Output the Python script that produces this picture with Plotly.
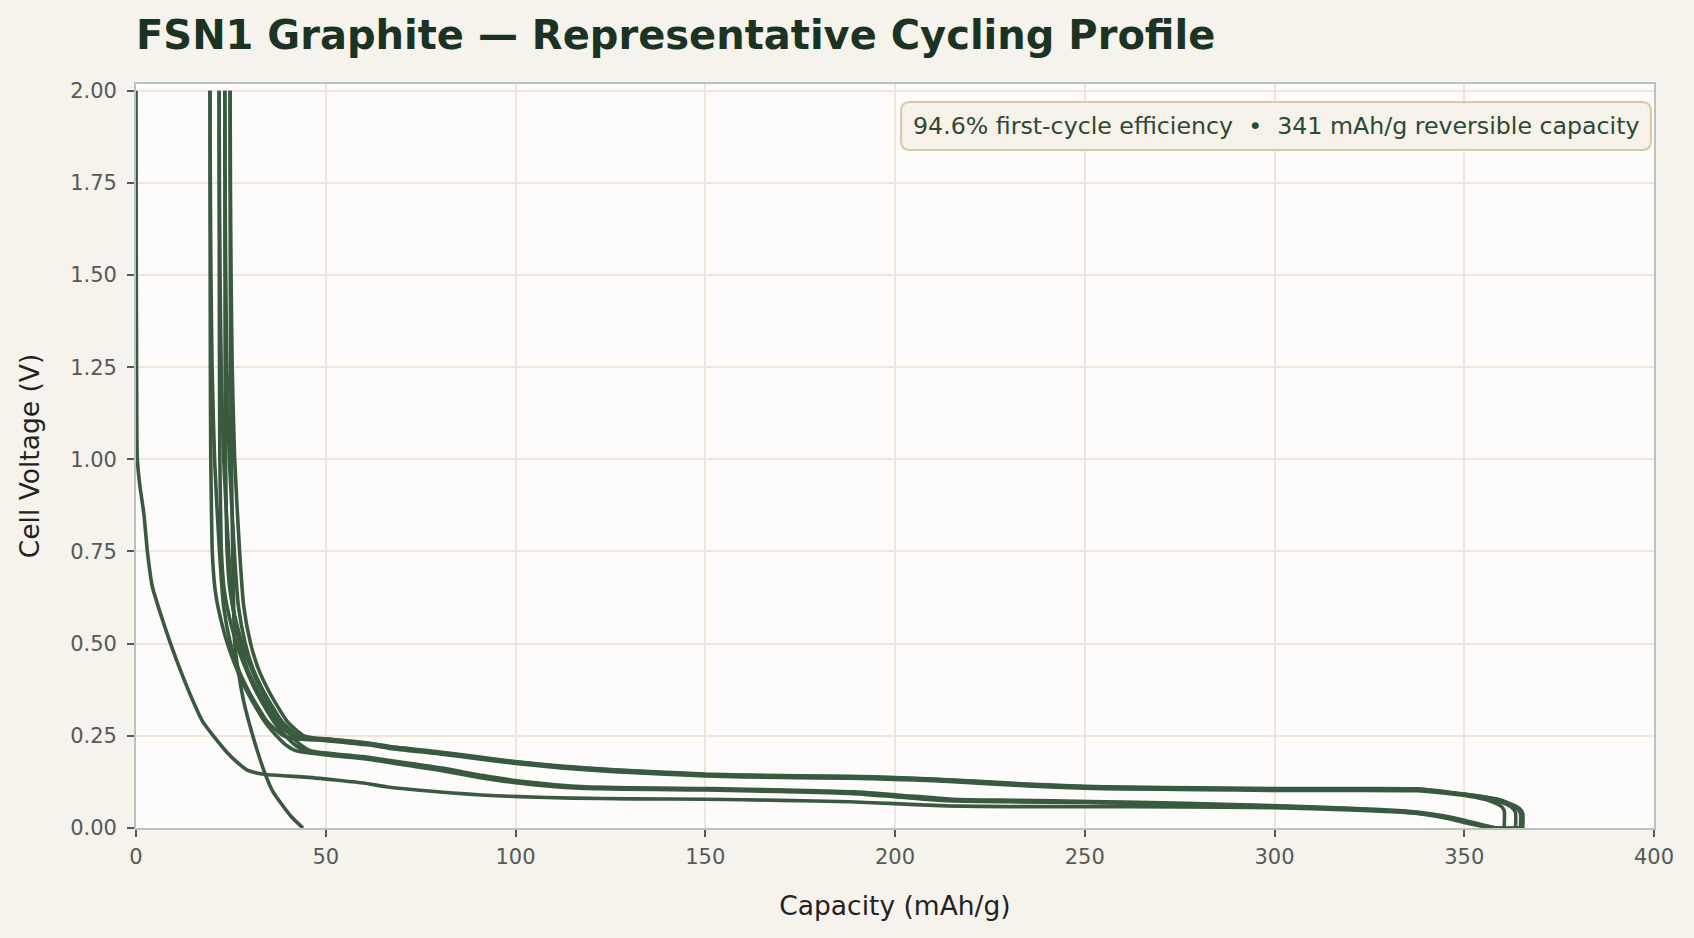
import plotly.graph_objects as go

# values (capacity in mAh/g, voltage in V)
first_cycle_eff = 94.6
reversible_cap = 341

# cycle 1 discharge
cap_d1 = [0.0, 0.05, 0.15, 0.35, 1.0, 2.1, 3.0, 4.3, 6.5, 9.1, 12.0, 14.9, 17.5, 20.6, 24.0, 27.0,
          29.3, 31.5, 34.2, 40.0, 44.8, 52.7, 60.0, 65.9, 74.0, 83.4, 92.0, 101.0, 115.0, 130.0, 150.0,
          170.0, 188.0, 200.0, 213.7, 230.0, 250.0, 275.0, 300.0, 320.0, 337.6, 345.0, 350.0, 355.0,
          358.0, 360.5]
volt_d1 = [2.0, 1.6, 1.25, 1.0, 0.93, 0.85, 0.75, 0.655, 0.58, 0.5, 0.42, 0.347, 0.29, 0.247, 0.205,
           0.175, 0.157, 0.15, 0.145, 0.141, 0.138, 0.13, 0.122, 0.112, 0.103, 0.095, 0.089, 0.085, 0.081,
           0.079, 0.078, 0.075, 0.071, 0.066, 0.06, 0.058, 0.058, 0.057, 0.055, 0.049, 0.04, 0.03, 0.017,
           0.006, 0.0, 0.0]

# cycle 1 charge
cap_c1 = [360.5, 360.5, 359.6, 357.2, 353.5, 348.5, 342.5, 337.6, 320, 300, 280, 260, 250, 235, 223,
          210, 200, 188, 170, 150, 126, 112, 100, 90, 80, 67, 61.5, 55, 50, 42.0, 39.0, 37.0, 34.5, 32.0,
          29.5, 27.0, 24.9, 23.1, 22.0, 20.7, 20.05, 19.75, 19.58, 19.5]
volt_c1 = [0.0, 0.048, 0.06, 0.072, 0.082, 0.09, 0.097, 0.101, 0.102, 0.102, 0.104, 0.106, 0.108, 0.114,
           0.121, 0.128, 0.132, 0.135, 0.137, 0.141, 0.153, 0.163, 0.175, 0.188, 0.201, 0.216, 0.225, 0.232,
           0.237, 0.242, 0.25, 0.265, 0.29, 0.33, 0.375, 0.43, 0.5, 0.6, 0.75, 1.0, 1.25, 1.5, 1.75, 2.0]

# cycle 2
cap_d2 = [19.5, 19.52, 19.55, 19.6, 19.7, 19.9, 20.1, 20.8, 21.6, 24.1, 27.0, 29.0, 32.0, 34.5, 37.0,
          39.5, 42.0, 50, 61.5, 70, 80, 90, 100, 117, 150, 170, 188, 200, 213.7, 230, 250, 275, 300, 320,
          333, 340, 346, 350, 354, 357, 363.5]
volt_d2 = [2.0, 1.75, 1.5, 1.25, 1.0, 0.85, 0.75, 0.65, 0.6, 0.5, 0.42, 0.375, 0.32, 0.28, 0.25, 0.225,
           0.21, 0.198, 0.186, 0.172, 0.157, 0.138, 0.123, 0.108, 0.103, 0.099, 0.094, 0.085, 0.074, 0.071,
           0.069, 0.064, 0.058, 0.051, 0.044, 0.036, 0.025, 0.015, 0.006, 0.0, 0.0]
cap_c2 = [363.5, 363.5, 362.6, 360.2, 356.5, 351.5, 344.5, 337.6, 320, 300, 280, 260, 250, 235, 223,
          210, 200, 188, 170, 150, 126, 112, 100, 90, 80, 67, 61.5, 55, 50, 44.4, 41.4, 39.4, 36.9, 34.4,
          31.9, 29.4, 27.3, 25.5, 24.4, 23.1, 22.45, 22.15, 21.98, 21.9]
volt_c2 = [0.0, 0.042, 0.055, 0.068, 0.08, 0.089, 0.097, 0.103, 0.104, 0.104, 0.106, 0.108, 0.11, 0.116,
           0.123, 0.13, 0.134, 0.137, 0.139, 0.143, 0.155, 0.165, 0.177, 0.19, 0.203, 0.218, 0.227, 0.234,
           0.239, 0.242, 0.25, 0.265, 0.29, 0.33, 0.375, 0.43, 0.5, 0.6, 0.75, 1.0, 1.25, 1.5, 1.75, 2.0]

# cycle 3
cap_d3 = [21.9, 21.92, 21.95, 22.0, 22.1, 22.3, 22.5, 23.2, 24.0, 26.5, 29.4, 31.4, 34.4, 36.9, 39.4,
          41.9, 44.4, 51, 62, 71, 81, 91, 101, 118, 151, 171, 189, 201, 214.5, 231, 251, 276, 301, 321,
          334, 341, 347, 351, 355, 358, 364.8]
volt_d3 = [2.0, 1.75, 1.5, 1.25, 1.0, 0.85, 0.75, 0.65, 0.6, 0.5, 0.42, 0.375, 0.32, 0.28, 0.25, 0.225,
           0.21, 0.2, 0.188, 0.174, 0.159, 0.14, 0.125, 0.11, 0.105, 0.101, 0.096, 0.087, 0.076, 0.073,
           0.07, 0.065, 0.059, 0.052, 0.045, 0.037, 0.026, 0.016, 0.006, 0.0, 0.0]
cap_c3 = [364.8, 364.8, 363.9, 361.5, 357.8, 352.5, 345.5, 337.6, 320, 300, 280, 260, 250, 235, 223,
          210, 200, 188, 170, 150, 126, 112, 100, 90, 80, 67, 61.5, 55, 50, 45.9, 42.9, 40.9, 38.4, 35.9,
          33.4, 30.9, 28.8, 27.0, 25.9, 24.6, 23.95, 23.65, 23.48, 23.4]
volt_c3 = [0.0, 0.04, 0.053, 0.066, 0.079, 0.088, 0.097, 0.105, 0.106, 0.106, 0.108, 0.11, 0.112, 0.118,
           0.125, 0.132, 0.136, 0.139, 0.141, 0.145, 0.157, 0.167, 0.179, 0.192, 0.205, 0.22, 0.229, 0.236,
           0.241, 0.243, 0.25, 0.265, 0.29, 0.33, 0.375, 0.43, 0.5, 0.6, 0.75, 1.0, 1.25, 1.5, 1.75, 2.0]

# cycle 4
cap_d4 = [23.4, 23.42, 23.45, 23.5, 23.6, 23.8, 24.0, 24.7, 25.5, 28.0, 30.9, 32.9, 35.9, 38.4, 40.9,
          43.4, 45.9, 51.5, 62.5, 71.5, 81.5, 91.5, 101.5, 118.5, 151.5, 171.5, 189.5, 201.5, 215, 231.5,
          251.5, 276.5, 301.5, 321.5, 334.5, 341.5, 347.5, 351.5, 355.5, 358.5, 365.4]
volt_d4 = [2.0, 1.75, 1.5, 1.25, 1.0, 0.85, 0.75, 0.65, 0.6, 0.5, 0.42, 0.375, 0.32, 0.28, 0.25, 0.225,
           0.21, 0.202, 0.19, 0.176, 0.161, 0.142, 0.127, 0.112, 0.107, 0.103, 0.098, 0.089, 0.078, 0.075,
           0.072, 0.067, 0.06, 0.053, 0.046, 0.038, 0.027, 0.017, 0.007, 0.0, 0.0]
cap_c4 = [365.4, 365.4, 364.5, 362.1, 358.4, 353.0, 346.0, 337.6, 320, 300, 280, 260, 250, 235, 223,
          210, 200, 188, 170, 150, 126, 112, 100, 90, 80, 67, 61.5, 55, 50, 47.3, 44.3, 42.3, 39.8, 37.3,
          34.8, 32.3, 30.2, 28.4, 27.3, 26.0, 25.35, 25.05, 24.88, 24.8]
volt_c4 = [0.0, 0.04, 0.053, 0.066, 0.079, 0.088, 0.097, 0.106, 0.107, 0.107, 0.109, 0.111, 0.113, 0.119,
           0.126, 0.133, 0.137, 0.14, 0.142, 0.146, 0.158, 0.168, 0.18, 0.193, 0.206, 0.221, 0.23, 0.237,
           0.242, 0.244, 0.25, 0.265, 0.29, 0.33, 0.375, 0.43, 0.5, 0.6, 0.75, 1.0, 1.25, 1.5, 1.75, 2.0]

# last (partial) discharge
cap_d5 = [24.8, 24.82, 24.85, 24.95, 25.15, 25.4, 25.7, 26.0, 27.2, 28.5, 31.1, 33.8, 36.0, 38.2, 41.0, 44.0]
volt_d5 = [2.0, 1.75, 1.5, 1.25, 1.0, 0.8, 0.62, 0.5, 0.41, 0.338, 0.239, 0.153, 0.1, 0.067, 0.03, 0.0]

segments = [(cap_d1, volt_d1), (cap_c1, volt_c1), (cap_d2, volt_d2), (cap_c2, volt_c2),
            (cap_d3, volt_d3), (cap_c3, volt_c3), (cap_d4, volt_d4), (cap_c4, volt_c4),
            (cap_d5, volt_d5)]

LINE = "#3a5a40"
PAPER = "#f6f2ec"

fig = go.Figure()
for cap, volt in segments:
    fig.add_trace(go.Scatter(x=cap, y=volt, mode="lines",
                             line=dict(color=LINE, width=3.6, shape="spline", smoothing=0.6),
                             hoverinfo="skip"))

# rounded box behind the summary text (paper coords)
x0, x1, y0, y1 = 0.504, 0.998, 0.9113, 0.9758
rx, ry = 0.0059, 0.0121
box = (f"M {x0+rx},{y0} L {x1-rx},{y0} Q {x1},{y0} {x1},{y0+ry} L {x1},{y1-ry} "
       f"Q {x1},{y1} {x1-rx},{y1} L {x0+rx},{y1} Q {x0},{y1} {x0},{y1-ry} "
       f"L {x0},{y0+ry} Q {x0},{y0} {x0+rx},{y0} Z")
fig.add_shape(type="path", path=box, xref="paper", yref="paper",
              fillcolor="#f6f1e9", line=dict(color="#d9c7a7", width=2), layer="above")
fig.add_annotation(x=(x0+x1)/2, y=(y0+y1)/2, xref="paper", yref="paper", showarrow=False,
                   text=f"{first_cycle_eff}% first-cycle efficiency\u00a0 •\u00a0 {reversible_cap} mAh/g reversible capacity",
                   font=dict(size=23.7, color="#2a4a32"), xanchor="center", yanchor="middle")

axis_common = dict(showgrid=True, gridcolor="#f0e5d6", gridwidth=1.8, zeroline=False,
                   showline=True, linecolor="#b9c4bc", linewidth=1.8, mirror=True,
                   ticks="outside", ticklen=7, tickwidth=1.6, tickcolor="#555a56",
                   tickfont=dict(size=21, color="#555a56"))

fig.update_layout(
    width=1694, height=938,
    margin=dict(l=136, r=40, t=84, b=110),
    paper_bgcolor=PAPER, plot_bgcolor="#fdfcfa",
    showlegend=False,
    font=dict(family="DejaVu Sans"),
    title=dict(text="<b>FSN1 Graphite — Representative Cycling Profile</b>",
               xref="paper", x=0, xanchor="left", yref="container", y=1-35/938, yanchor="middle",
               font=dict(size=40, color="#1a3322")),
    xaxis=dict(range=[0, 400], dtick=50, ticklabelstandoff=2,
               title=dict(text="Capacity (mAh/g)", standoff=28,
                          font=dict(size=26.5, color="#222222")), **axis_common),
    yaxis=dict(range=[0, 2.018], dtick=0.25, tickformat=".2f", ticklabelstandoff=6,
               title=dict(text="Cell Voltage (V)", standoff=23, font=dict(size=26.5, color="#222222")),
               **axis_common),
)

# drop the browser's default page margin so the figure sits at the window origin
page_css = f"document.body.style.margin='0';document.body.style.backgroundColor='{PAPER}';"
fig.write_html("out.html", post_script=page_css, config={"displayModeBar": False})
